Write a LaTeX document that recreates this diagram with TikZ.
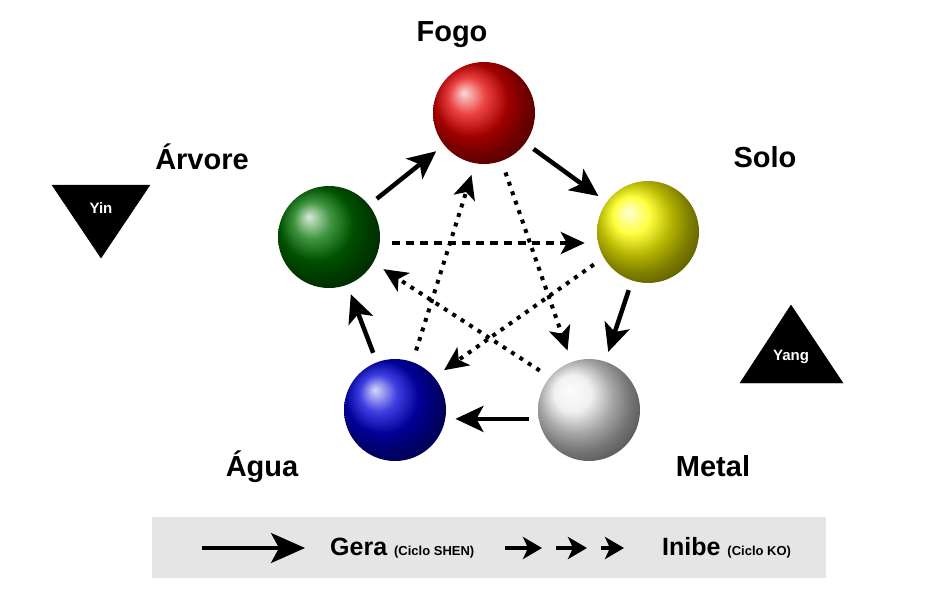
\documentclass[tikz,border=0pt]{standalone}
\usepackage{fontspec}
\setmainfont{Liberation Sans}
\usetikzlibrary{arrows.meta}
\begin{document}
\begin{tikzpicture}[x=1pt,y=-1pt,
  ball/.style={circle,minimum size=102pt,inner sep=0pt},
  lbl/.style={font=\bfseries\fontsize{29}{32}\selectfont},
  gen/.style={line width=4.5pt,-{Stealth[length=28pt,width=26pt,inset=7pt]},shorten <=10pt,shorten >=10pt},
  ko/.style={line width=4pt,-{Stealth[length=24pt,width=22pt,inset=6pt]},shorten <=12pt,shorten >=12pt},
  tri/.style={fill=black,draw=black}]
\useasboundingbox (0,0) rectangle (925,606);
\node[ball,ball color=red!90!black] (fogo) at (484,113) {};
\node[ball,ball color=yellow] (solo) at (648,232) {};
\node[ball,ball color=gray!15] (metal) at (589,410) {};
\node[ball,ball color=blue!85!black] (agua) at (395,410) {};
\node[ball,ball color=green!45!black] (arv) at (329,237) {};
\node[lbl] (tfogo) at (452,35) {Fogo};
\node[lbl] (tsolo) at (765,157) {Solo};
\node[lbl] (tarv) at (202,157) {Árvore};
\node[lbl] (tagua) at (262,467) {Água};
\node[lbl] (tmetal) at (713,466) {Metal};
\draw[gen] (arv) -- (fogo);
\draw[gen] (fogo) -- (solo);
\draw[gen] (solo) -- (metal);
\draw[gen] (metal.190) -- (agua.-10);
\draw[gen] (agua) -- (arv);
\draw[ko,dash pattern=on 8pt off 6pt] ([yshift=-6pt]arv.east) -- ([yshift=-6pt]arv.east -| solo.west);
\draw[ko,dash pattern=on 4pt off 6pt] (agua.70) -- (fogo.-100);
\draw[ko,dash pattern=on 4pt off 6pt] (fogo.-70) -- (metal.110);
\draw[ko,dash pattern=on 4pt off 6pt] (solo.-150) -- (agua.40);
\draw[ko,dash pattern=on 4pt off 6pt] (metal.140) -- (arv.-30);
\draw[tri] (52,185) -- (150,185) -- (101,258) -- cycle;
\node[text=white,font=\bfseries\fontsize{15}{17}\selectfont] (yin) at (101,208) {Yin};
\draw[tri] (740,383) -- (843,383) -- (791,305) -- cycle;
\node[text=white,font=\bfseries\fontsize{15}{17}\selectfont] (yang) at (791,357) {Yang};
\fill[gray!20] (152,517) rectangle (826,578);
\coordinate (l1) at (202,548); \coordinate (l2) at (305,548);
\draw[line width=3.5pt,-{Stealth[length=34pt,width=30pt,inset=8pt]}] (l1) -- (l2);
\node[font=\bfseries\fontsize{25}{28}\selectfont,anchor=west,inner sep=0pt] (gera) at (330,548) {Gera \fontsize{13}{15}\selectfont(Ciclo SHEN)};
\coordinate (a1) at (505,548); \coordinate (a2) at (542,548);
\coordinate (b1) at (556,548); \coordinate (b2) at (587,548);
\coordinate (c1) at (601,548); \coordinate (c2) at (624,548);
\foreach \p/\q in {a1/a2,b1/b2,c1/c2}
  \draw[line width=3.5pt,-{Stealth[length=19pt,width=22pt,inset=5pt]}] (\p) -- (\q);
\node[font=\bfseries\fontsize{25}{28}\selectfont,anchor=west,inner sep=0pt] (inibe) at (662,548) {Inibe \fontsize{13}{15}\selectfont(Ciclo KO)};
\end{tikzpicture}
\end{document}
